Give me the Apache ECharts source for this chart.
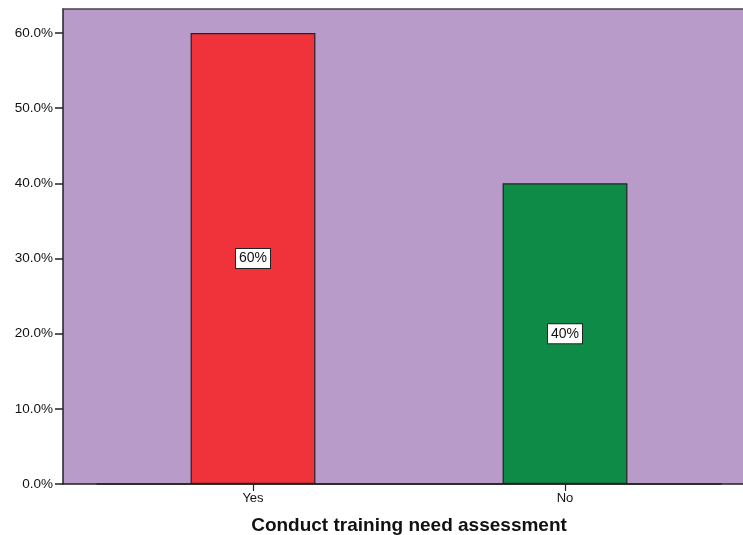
<!DOCTYPE html>
<html>
<head>
<meta charset="utf-8">
<script src="https://cdn.jsdelivr.net/npm/echarts@6/dist/echarts.min.js"></script>
<style>
  html, body { margin: 0; padding: 0; background: #fff; }
  #chart { width: 743px; height: 535px; }
</style>
</head>
<body>
<div id="chart"></div>
<script>
// Survey answers for "Conduct training need assessment"
var categories = ['Yes', 'No'];
var percentValues = [60, 40];
var barColors = ['#F0333B', '#0F8B48'];
var yTickValues = [0, 10, 20, 30, 40, 50, 60];

var fontFamily = 'Liberation Sans, Arial, sans-serif';

var chart = echarts.init(document.getElementById('chart'), null, { renderer: 'canvas' });

chart.setOption({
  animation: false,
  backgroundColor: '#ffffff',
  grid: [
    // plot frame with purple fill
    { left: 63, right: 0, top: 9, bottom: 51, show: true, backgroundColor: '#B89BC9', borderWidth: 0, outerBoundsMode: 'none', containLabel: false },
    // bar area
    { left: 97, right: 22, top: 33, bottom: 51, outerBoundsMode: 'none', containLabel: false }
  ],
  xAxis: [
    {
      gridIndex: 0, type: 'value', min: 0, max: 1, position: 'bottom',
      axisLine: { show: true, lineStyle: { color: '#222', width: 1.5 } },
      axisTick: { show: false }, axisLabel: { show: false }, splitLine: { show: false }
    },
    {
      gridIndex: 0, type: 'value', min: 0, max: 1, position: 'top',
      axisLine: { show: true, lineStyle: { color: '#444', width: 1.5 } },
      axisTick: { show: false }, axisLabel: { show: false }, splitLine: { show: false }
    },
    {
      gridIndex: 1, type: 'category', data: categories, position: 'bottom',
      axisLine: { show: true, lineStyle: { color: '#222', width: 1.5 } },
      axisTick: { show: true, alignWithLabel: true, length: 7, lineStyle: { color: '#222', width: 1.2 } },
      axisLabel: { color: '#111', fontSize: 13, fontFamily: fontFamily, margin: 8 },
      name: 'Conduct training need assessment',
      nameLocation: 'middle',
      nameGap: 32,
      nameTextStyle: { color: '#111', fontSize: 19, fontWeight: 'bold', fontFamily: fontFamily }
    }
  ],
  yAxis: [
    {
      gridIndex: 0, type: 'value', min: 0, max: 1,
      axisLine: { show: true, lineStyle: { color: '#222', width: 1.5 } },
      axisTick: { show: false }, axisLabel: { show: false }, splitLine: { show: false }
    },
    {
      gridIndex: 1, type: 'value', min: 0, max: 60, interval: 10, offset: 34,
      axisLine: { show: false },
      axisTick: { show: true, length: 8, lineStyle: { color: '#222', width: 1.5 } },
      axisLabel: {
        color: '#111', fontSize: 13.5, fontFamily: fontFamily, margin: 10,
        formatter: function (v) { return yTickValues.indexOf(v) >= 0 ? v.toFixed(1) + '%' : ''; }
      },
      splitLine: { show: false }
    }
  ],
  series: [
    {
      type: 'bar',
      xAxisIndex: 2,
      yAxisIndex: 1,
      barWidth: '40%',
      data: percentValues.map(function (v, i) {
        return { value: v, itemStyle: { color: barColors[i] } };
      }),
      itemStyle: { borderColor: '#222', borderWidth: 1.2 },
      label: {
        show: true,
        position: 'inside',
        formatter: '{c}%',
        color: '#111',
        fontSize: 14,
        fontFamily: fontFamily,
        backgroundColor: '#ffffff',
        borderColor: '#222',
        borderWidth: 1,
        padding: [3, 3, 2, 3]
      }
    }
  ]
});
</script>
</body>
</html>
